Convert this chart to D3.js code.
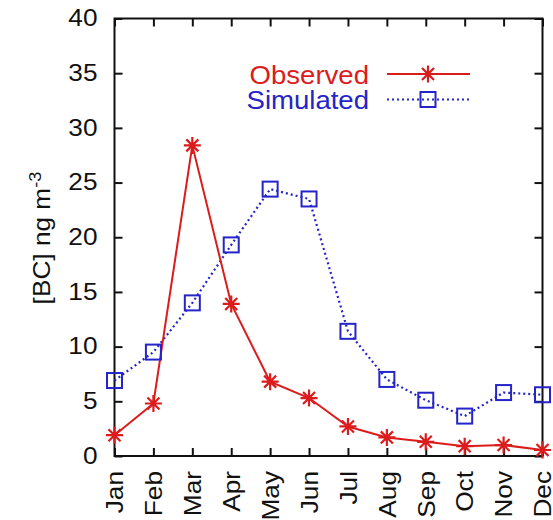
<!DOCTYPE html>
<html>
<head>
<meta charset="utf-8">
<script src="https://cdn.jsdelivr.net/npm/d3@7"></script>
<style>
  body { margin: 0; background: #fff; }
  svg text { font-family: "Liberation Sans", Arial, sans-serif; }
</style>
</head>
<body>
<div id="main"></div>
<script>
const ctx = {
    w: 553,
    h: 520,
    left: 114.5,
    right: 542.5,
    top: 18.5,
    bottom: 456,
    stretch: 1.14, // the original font is a bit wider than Liberation Sans
};

// data
const months = ["Jan", "Feb", "Mar", "Apr", "May", "Jun", "Jul", "Aug", "Sep", "Oct", "Nov", "Dec"];
const observed = [1.9, 4.8, 28.4, 13.9, 6.8, 5.3, 2.7, 1.7, 1.3, 0.9, 1.0, 0.55];
const simulated = [6.9, 9.5, 14.0, 19.3, 24.4, 23.5, 11.4, 7.0, 5.1, 3.65, 5.8, 5.6];
const yTicks = [0, 5, 10, 15, 20, 25, 30, 35, 40];

const red = "#dc1c1c";
const blue = "#2424c8";

function starPath(r) {
    let p = "";
    for (let i = 0; i < 4; i++) {
        let a = i * Math.PI / 4;
        let dx = r * Math.cos(a), dy = r * Math.sin(a);
        p += `M${-dx},${-dy}L${dx},${dy}`;
    }
    return p;
}

function drawChart(svg) {
    let k = ctx.stretch;
    let x = d3.scalePoint().domain(months).range([ctx.left, ctx.right]);
    let y = d3.scaleLinear().domain([0, 40]).range([ctx.bottom, ctx.top]);

    // axes, ticks point inwards like gnuplot
    let gl = svg.append("g")
        .attr("transform", `translate(${ctx.left},0)`)
        .call(d3.axisLeft(y).tickValues(yTicks).tickSize(-8).tickSizeOuter(0).tickPadding(17));
    gl.selectAll("text")
        .style("font-size", "23px")
        .attr("fill", "#111")
        .attr("x", -17 / k)
        .attr("transform", `scale(${k},1)`);

    svg.append("g")
        .attr("transform", `translate(${ctx.right},0)`)
        .call(d3.axisRight(y).tickValues(yTicks).tickSize(-8).tickSizeOuter(0).tickFormat(""));

    svg.append("g")
        .attr("transform", `translate(0,${ctx.top})`)
        .call(d3.axisTop(x).tickSize(-8).tickSizeOuter(0).tickFormat(""));

    let gb = svg.append("g")
        .attr("transform", `translate(0,${ctx.bottom})`)
        .call(d3.axisBottom(x).tickSize(-8).tickSizeOuter(0));
    gb.selectAll("text")
        .style("font-size", "23px")
        .attr("fill", "#111")
        .attr("text-anchor", "end")
        .attr("transform", `rotate(-90) scale(${k},1)`)
        .attr("x", -15 / k)
        .attr("y", 0)
        .attr("dy", "0.36em");

    svg.selectAll(".domain").remove();
    svg.selectAll(".tick line").attr("stroke", "#111").attr("stroke-width", 2);

    svg.append("rect")
        .attr("x", ctx.left).attr("y", ctx.top)
        .attr("width", ctx.right - ctx.left).attr("height", ctx.bottom - ctx.top)
        .attr("fill", "none").attr("stroke", "#111").attr("stroke-width", 2);

    // y label
    let yl = svg.append("text")
        .attr("transform", `translate(50,238) rotate(-90) scale(${k},1)`)
        .attr("text-anchor", "middle")
        .style("font-size", "23px")
        .attr("fill", "#111");
    yl.append("tspan").text("[BC] ng m");
    yl.append("tspan").attr("dy", "-0.55em").style("font-size", "16px").text("-3");

    let line = d3.line().x((d, i) => x(months[i])).y(d => y(d));

    svg.append("path")
        .datum(simulated)
        .attr("d", line)
        .attr("fill", "none").attr("stroke", blue).attr("stroke-width", 2.2)
        .attr("stroke-dasharray", "2,3");

    svg.append("path")
        .datum(observed)
        .attr("d", line)
        .attr("fill", "none").attr("stroke", red).attr("stroke-width", 2);

    svg.selectAll(".sim")
        .data(simulated)
        .enter().append("rect")
        .attr("class", "sim")
        .attr("x", (d, i) => x(months[i]) - 7.5)
        .attr("y", d => y(d) - 7.5)
        .attr("width", 15).attr("height", 15)
        .attr("fill", "none").attr("stroke", blue).attr("stroke-width", 2);

    svg.selectAll(".obs")
        .data(observed)
        .enter().append("path")
        .attr("class", "obs")
        .attr("transform", (d, i) => `translate(${x(months[i])},${y(d)})`)
        .attr("d", starPath(8.5))
        .attr("stroke", red).attr("stroke-width", 2.2);

    // legend
    let legend = [
        {name: "Observed", color: red, dash: null, mark: "star"},
        {name: "Simulated", color: blue, dash: "2,3", mark: "square"},
    ];
    let lg = svg.selectAll(".legend")
        .data(legend)
        .enter().append("g")
        .attr("class", "legend")
        .attr("transform", (d, i) => `translate(0,${74 + i * 25.5})`);
    lg.append("text")
        .attr("transform", "translate(369,0) scale(1.04,1)")
        .attr("dy", "0.36em")
        .attr("text-anchor", "end")
        .style("font-size", "26.5px")
        .attr("fill", d => d.color)
        .text(d => d.name);
    lg.append("line")
        .attr("x1", 387).attr("x2", 470)
        .attr("stroke", d => d.color).attr("stroke-width", 2)
        .attr("stroke-dasharray", d => d.dash);
    lg.filter(d => d.mark == "star").append("path")
        .attr("transform", "translate(428,0)")
        .attr("d", starPath(8.5))
        .attr("stroke", red).attr("stroke-width", 2.2);
    lg.filter(d => d.mark == "square").append("rect")
        .attr("x", 420.5).attr("y", -7.5).attr("width", 15).attr("height", 15)
        .attr("fill", "none").attr("stroke", blue).attr("stroke-width", 2);
}

let svgEl = d3.select("#main").append("svg")
    .attr("width", ctx.w)
    .attr("height", ctx.h);
drawChart(svgEl);
</script>
</body>
</html>
